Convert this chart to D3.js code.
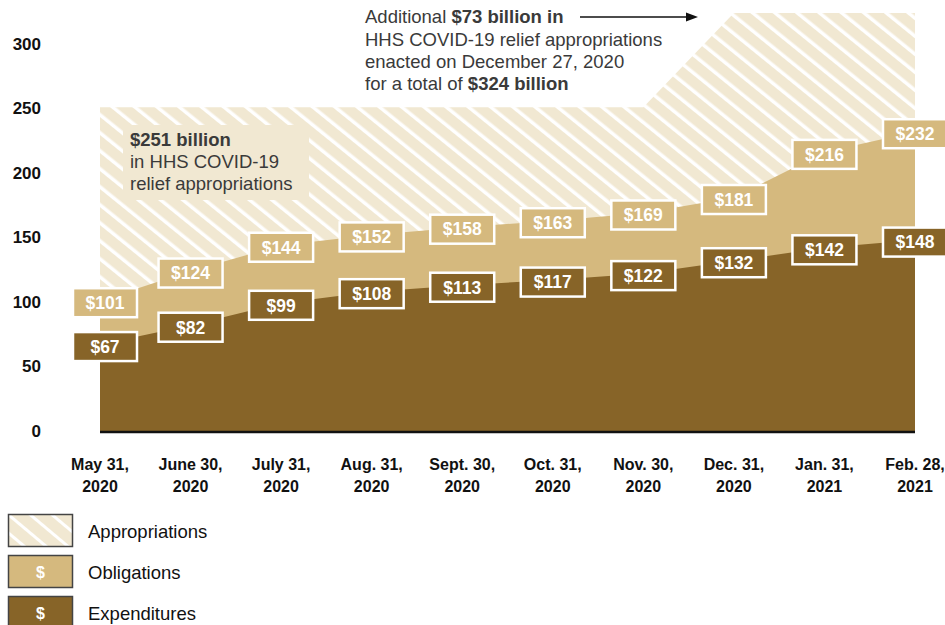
<!DOCTYPE html>
<html><head><meta charset="utf-8">
<script src="https://cdn.jsdelivr.net/npm/d3@7"></script>
<style>body{margin:0;background:#fff}svg{display:block;font-family:"Liberation Sans",Arial,sans-serif}</style>
</head><body><svg id="c" width="945" height="625"></svg>
<script>
const dates = ["May 31,|2020","June 30,|2020","July 31,|2020","Aug. 31,|2020","Sept. 30,|2020","Oct. 31,|2020","Nov. 30,|2020","Dec. 31,|2020","Jan. 31,|2021","Feb. 28,|2021"];
const appropriations = [251,251,251,251,251,251,251,324,324,324];
const obligations = [101,124,144,152,158,163,169,181,216,232];
const expenditures = [67,82,99,108,113,117,122,132,142,148];
const yTicks = [0,50,100,150,200,250,300];

const C = {appr:"#f1e8d2", obl:"#d5b97e", exp:"#876428", text:"#3a3a3a"};
const svg = d3.select("#c");
const x = d3.scalePoint().domain(d3.range(dates.length)).range([100,915]);
const y = d3.scaleLinear().domain([0,300]).range([431,44]);

const defs = svg.append("defs");
const pat = defs.append("pattern").attr("id","hatch").attr("patternUnits","userSpaceOnUse")
  .attr("width",14).attr("height",14).attr("patternTransform","rotate(-51)");
pat.append("rect").attr("width",14).attr("height",14).attr("fill",C.appr);
pat.append("rect").attr("x",0).attr("y",0).attr("width",3.5).attr("height",14).attr("fill","#fff");
const pat2 = defs.append("pattern").attr("id","hatch2").attr("patternUnits","userSpaceOnUse")
  .attr("width",14).attr("height",14).attr("patternTransform","translate(8,514) rotate(-50)");
pat2.append("rect").attr("width",14).attr("height",14).attr("fill",C.appr);
pat2.append("rect").attr("x",0).attr("y",0).attr("width",3).attr("height",14).attr("fill","#fff");

const area = (vals) => d3.area().x((d,i)=>x(i)).y0(y(0)).y1(d=>y(d))(vals);
svg.append("path").attr("d",area(appropriations)).attr("fill","url(#hatch)");
svg.append("path").attr("d",area(obligations)).attr("fill",C.obl);
svg.append("path").attr("d",area(expenditures)).attr("fill",C.exp);
svg.append("line").attr("x1",100).attr("x2",915).attr("y1",y(0)+1).attr("y2",y(0)+1).attr("stroke","#111").attr("stroke-width",2.5);

// y axis labels
svg.append("g").selectAll("text").data(yTicks).join("text")
  .attr("x",41).attr("y",d=>y(d)).attr("dy","0.35em").attr("text-anchor","end")
  .attr("font-size",17).attr("font-weight","bold").attr("fill","#111").text(d=>d);

// x labels
const xl = svg.append("g").selectAll("text").data(dates).join("text")
  .attr("x",(d,i)=>x(i)).attr("y",470).attr("text-anchor","middle")
  .attr("font-size",16).attr("font-weight","bold").attr("fill","#111");
xl.append("tspan").attr("x",(d,i)=>x(i)).text(d=>d.split("|")[0]);
xl.append("tspan").attr("x",(d,i)=>x(i)).attr("dy",22).text(d=>d.split("|")[1]);

// plain box annotation
svg.append("rect").attr("x",123).attr("y",125).attr("width",186).attr("height",75).attr("fill",C.appr);
const a1 = svg.append("text").attr("x",130).attr("font-size",18.5).attr("fill",C.text);
a1.append("tspan").attr("x",130).attr("y",146).attr("font-weight","bold").text("$251 billion");
a1.append("tspan").attr("x",130).attr("y",168).text("in HHS COVID-19");
a1.append("tspan").attr("x",130).attr("y",190).text("relief appropriations");

// top annotation
const a2 = svg.append("text").attr("font-size",18.5).attr("fill",C.text);
const l1 = a2.append("tspan").attr("x",365).attr("y",23);
l1.append("tspan").text("Additional ");
l1.append("tspan").attr("font-weight","bold").text("$73 billion in");
a2.append("tspan").attr("x",365).attr("y",46).text("HHS COVID-19 relief appropriations");
a2.append("tspan").attr("x",365).attr("y",68).text("enacted on December 27, 2020");
const l4 = a2.append("tspan").attr("x",365).attr("y",90);
l4.append("tspan").text("for a total of ");
l4.append("tspan").attr("font-weight","bold").text("$324 billion");
svg.append("line").attr("x1",580).attr("x2",688).attr("y1",17).attr("y2",17).attr("stroke","#111").attr("stroke-width",1.5);
svg.append("path").attr("d","M686,12.5 L698,17 L686,21.5 Z").attr("fill","#111");

// value labels
function labels(vals, fill){
  const g = svg.append("g").selectAll("g").data(vals).join("g")
    .attr("transform",(d,i)=>`translate(${i===0?x(i)+5:x(i)},${y(d)+2})`);
  g.append("rect").attr("x",-32).attr("y",-14.5).attr("width",64).attr("height",29)
    .attr("fill",fill).attr("stroke","#fff").attr("stroke-width",2.5);
  g.append("text").attr("text-anchor","middle").attr("dy","0.36em").attr("font-size",17.5)
    .attr("font-weight","bold").attr("fill","#fff").text(d=>"$"+d);
}
labels(obligations, C.obl);
labels(expenditures, C.exp);

// legend
const leg = [{k:"Appropriations",f:"url(#hatch2)",s:false},{k:"Obligations",f:C.obl,s:true},{k:"Expenditures",f:C.exp,s:true}];
const lg = svg.append("g").selectAll("g").data(leg).join("g").attr("transform",(d,i)=>`translate(0,${514+i*41})`);
lg.append("rect").attr("x",8.5).attr("y",0.5).attr("width",64).attr("height",32).attr("fill",d=>d.f).attr("stroke","#444").attr("stroke-width",1.5);
lg.filter(d=>d.s).append("text").attr("x",40.5).attr("y",17).attr("dy","0.36em").attr("text-anchor","middle")
  .attr("font-size",16).attr("font-weight","bold").attr("fill","#fff").text("$");
lg.append("text").attr("x",88).attr("y",17).attr("dy","0.36em").attr("font-size",18.5).attr("fill","#111").text(d=>d.k);
</script></body></html>
